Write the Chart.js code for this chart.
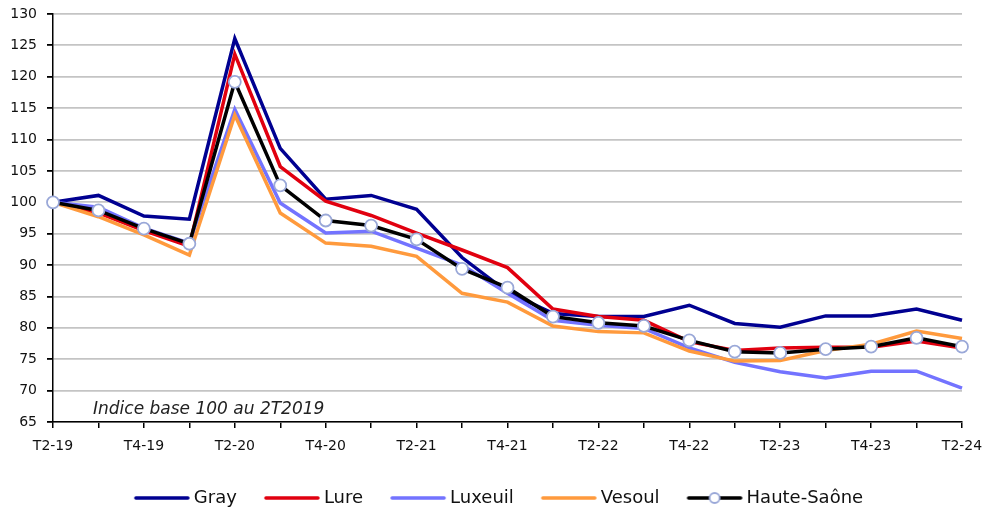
<!DOCTYPE html>
<html>
<head>
<meta charset="utf-8">
<script src="https://cdn.jsdelivr.net/npm/chart.js@4"></script>
<style>
  html,body{margin:0;padding:0;background:#fff;}
  #wrap{width:984px;height:511px;}
</style>
</head>
<body>
<div id="wrap"><canvas id="chart"></canvas></div>
<script>
// quarters T2-19 .. T2-24
const quarters = ["T2-19","T3-19","T4-19","T1-20","T2-20","T3-20","T4-20","T1-21","T2-21","T3-21","T4-21",
                  "T1-22","T2-22","T3-22","T4-22","T1-23","T2-23","T3-23","T4-23","T1-24","T2-24"];

const gray      = [100,101.1,97.8,97.3,126.1,108.6,100.5,101.1,98.9,91.2,85.7,82.3,81.8,81.8,83.6,80.7,80.1,81.9,81.9,83.0,81.2];
const lure      = [100,98.3,95.5,93.0,123.6,105.7,100.2,97.9,95.1,92.4,89.6,83.0,81.8,81.2,77.8,76.4,76.8,76.9,76.9,77.9,76.8];
const luxeuil   = [100,99.2,95.9,93.5,114.8,99.9,95.1,95.4,92.7,90.0,85.5,81.2,80.4,79.9,76.8,74.5,73.0,72.0,73.1,73.1,70.4];
const vesoul    = [100,97.7,94.8,91.6,113.9,98.3,93.5,93.0,91.4,85.5,84.1,80.3,79.4,79.2,76.3,74.7,74.8,76.4,77.4,79.5,78.3];
const hauteSaone= [100,98.7,95.8,93.4,119.2,102.7,97.1,96.3,94.1,89.4,86.4,81.8,80.8,80.3,78.0,76.2,76.0,76.6,77.0,78.4,77.0];

const colors = {gray:"#000091", lure:"#e1000f", luxeuil:"#7373ff", vesoul:"#ff9a3d", hs:"#000000", marker:"#9aa8d8"};
const FONT = "'DejaVu Sans'";

// legend swatch: 62px canvas, line drawn from 6 to 60 so it sits closer to the text
function swatch(color, withMarker){
  const c = document.createElement("canvas");
  c.width = 62; c.height = 14;
  const g = c.getContext("2d");
  g.strokeStyle = color; g.lineWidth = 3.5; g.lineCap = "round";
  g.beginPath(); g.moveTo(7,7); g.lineTo(59,7); g.stroke();
  if(withMarker){
    g.fillStyle = "#fff"; g.strokeStyle = colors.marker; g.lineWidth = 1.8;
    g.beginPath(); g.arc(33,7,5,0,Math.PI*2); g.fill(); g.stroke();
  }
  return c;
}

const note = {
  id:"note",
  afterLayout(chart){
    // legend sits a bit right of centre in the original
    chart.legend.left += 14;
  },
  afterDatasetsDraw(chart){
    const {ctx, chartArea, scales} = chart;
    ctx.save();
    ctx.font = "oblique 17px " + FONT;
    ctx.fillStyle = "#222";
    ctx.textBaseline = "middle";
    ctx.fillText("Indice base 100 au 2T2019", chartArea.left + 40, scales.y.getPixelForValue(67.0));
    ctx.restore();
  }
};

const series = [
  {label:"Gray", data:gray, color:colors.gray},
  {label:"Lure", data:lure, color:colors.lure},
  {label:"Luxeuil", data:luxeuil, color:colors.luxeuil},
  {label:"Vesoul", data:vesoul, color:colors.vesoul}
];

const datasets = series.map((s,i)=>({
  label:s.label, data:s.data, borderColor:s.color, backgroundColor:s.color,
  borderWidth:3.5, pointRadius:0, tension:0, order:5-i
}));
datasets.push({
  label:"Haute-Saône", data:hauteSaone, borderColor:colors.hs, backgroundColor:"#fff",
  borderWidth:3.5, pointRadius:6, pointBackgroundColor:"#fff", pointBorderColor:colors.marker,
  pointBorderWidth:1.8, tension:0, order:0
});

new Chart(document.getElementById("chart"), {
  type:"line",
  data:{labels:quarters, datasets},
  plugins:[note],
  options:{
    responsive:true, maintainAspectRatio:false, animation:false,
    layout:{padding:{top:14,right:0,left:0,bottom:-6}},
    plugins:{
      tooltip:{enabled:false},
      legend:{
        position:"bottom",
        labels:{
          usePointStyle:true, pointStyleWidth:50, boxHeight:14, padding:28,
          color:"#111", font:{family:FONT, size:18},
          generateLabels(chart){
            const names = ["Gray","Lure","Luxeuil","Vesoul","Haute-Saône"];
            const cols = [colors.gray,colors.lure,colors.luxeuil,colors.vesoul,colors.hs];
            return names.map((n,i)=>({
              text:n, datasetIndex:i, pointStyle:swatch(cols[i], i===4),
              fillStyle:cols[i], strokeStyle:cols[i], lineWidth:0, hidden:false, fontColor:"#111"
            }));
          }
        }
      }
    },
    scales:{
      x:{
        offset:false,
        grid:{display:true, drawOnChartArea:false, drawTicks:true, tickLength:6, color:"#000", lineWidth:1.5},
        border:{display:true, color:"#000", width:1.5},
        ticks:{
          autoSkip:false, maxRotation:0, color:"#111", padding:10,
          font:{family:FONT, size:14},
          callback(v,i){ return i%2===0 ? quarters[i] : ""; }
        },
        afterFit(s){ s.height = 39; s.paddingRight = 22; s.paddingLeft = 0; }
      },
      y:{
        min:65, max:130,
        grid:{color:"#c4c4c4", lineWidth:1.8, tickLength:6, tickColor:"#000", drawTicks:true},
        border:{display:true, color:"#000", width:1.5},
        ticks:{stepSize:5, color:"#111", padding:10, font:{family:FONT, size:14}},
        afterFit(s){ s.width = 53; s.paddingTop = 0; s.paddingBottom = 0; }
      }
    }
  }
});
</script>
</body>
</html>
